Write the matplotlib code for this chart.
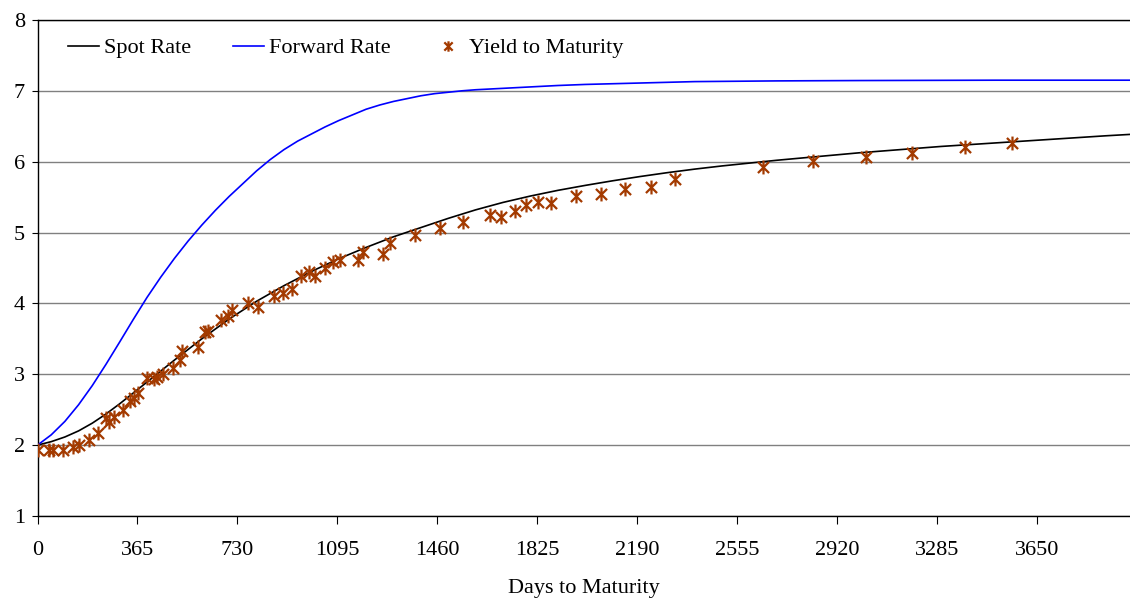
import numpy as np
import matplotlib
matplotlib.use("Agg")
import matplotlib.pyplot as plt
from matplotlib.path import Path

plt.rcParams['font.family'] = ['Liberation Serif', 'DejaVu Serif']
plt.rcParams['font.size'] = 16

# fitted spot curve (days, %)
spot_days = [0, 50, 100, 150, 200, 250, 300, 400, 500, 600, 700, 800, 900, 1000,
             1100, 1200, 1300, 1400, 1500, 1600, 1700, 1800, 1900, 2000, 2100, 2200,
             2300, 2400, 2500, 2600, 2700, 2800, 2900, 3000, 3100, 3200, 3300, 3400,
             3500, 3600, 3700, 3800, 3900, 3990]
spot_rate = [2.000, 2.049, 2.115, 2.201, 2.310, 2.439, 2.583, 2.890, 3.200, 3.500,
             3.780, 4.030, 4.250, 4.450, 4.630, 4.790, 4.940, 5.070, 5.200, 5.320,
             5.425, 5.515, 5.595, 5.665, 5.730, 5.790, 5.845, 5.895, 5.940, 5.980,
             6.020, 6.055, 6.090, 6.125, 6.155, 6.185, 6.215, 6.240, 6.265, 6.290,
             6.315, 6.340, 6.365, 6.385]

# implied forward curve (days, %)
fwd_days = [0, 50, 100, 150, 200, 250, 300, 350, 400, 450, 500, 550, 600, 650, 700,
            750, 800, 850, 900, 950, 1000, 1050, 1100, 1150, 1200, 1250, 1300, 1350,
            1400, 1450, 1500, 1550, 1600, 1700, 1800, 1900, 2000, 2200, 2400, 2700,
            3000, 3500, 3990]
fwd_rate = [2.000, 2.145, 2.335, 2.570, 2.840, 3.140, 3.455, 3.775, 4.085, 4.370,
            4.635, 4.880, 5.105, 5.315, 5.510, 5.690, 5.870, 6.030, 6.170, 6.290,
            6.390, 6.490, 6.580, 6.660, 6.740, 6.800, 6.850, 6.890, 6.930, 6.960,
            6.980, 7.000, 7.015, 7.035, 7.055, 7.075, 7.090, 7.110, 7.130, 7.140,
            7.145, 7.150, 7.150]

# observed yields to maturity (days, %)
ytm_days = [0, 43, 58, 94, 131, 153, 189, 220, 250, 261, 279, 311, 338, 352, 368,
            401, 425, 437, 459, 493, 520, 526, 585, 611, 623, 670, 696, 712, 770,
            804, 864, 897, 930, 961, 992, 1013, 1049, 1080, 1104, 1171, 1189, 1261,
            1289, 1378, 1469, 1554, 1651, 1694, 1743, 1785, 1828, 1877, 1968, 2057,
            2144, 2242, 2330, 2649, 2832, 3026, 3194, 3389, 3559]
ytm_rate = [1.93, 1.93, 1.93, 1.93, 1.98, 2.00, 2.07, 2.17, 2.38, 2.33, 2.40, 2.50,
            2.62, 2.67, 2.74, 2.95, 2.93, 2.96, 3.00, 3.09, 3.20, 3.33, 3.38, 3.60,
            3.61, 3.76, 3.82, 3.91, 4.01, 3.95, 4.10, 4.15, 4.21, 4.38, 4.45, 4.38,
            4.50, 4.58, 4.61, 4.61, 4.72, 4.70, 4.85, 4.96, 5.06, 5.15, 5.25, 5.22,
            5.30, 5.39, 5.43, 5.41, 5.52, 5.54, 5.62, 5.64, 5.75, 5.93, 6.01, 6.06,
            6.12, 6.21, 6.27]

xticks = np.arange(0, 3651, 365)
yticks = np.arange(1, 9)

# Excel-style star: an X with a vertical bar through it
star = Path([(-1, -1), (1, 1), (-1, 1), (1, -1), (0, -1.25), (0, 1.25)],
            [Path.MOVETO, Path.LINETO, Path.MOVETO, Path.LINETO, Path.MOVETO, Path.LINETO])

fig = plt.figure(figsize=(11.30, 6.03), dpi=100)
ax = fig.add_axes([0.0332, 0.1443, 0.9668, 0.8226])

ax.plot(spot_days, spot_rate, color='black', lw=1.2, label='Spot Rate', zorder=3)
ax.plot(fwd_days, fwd_rate, color='#0000ff', lw=1.2, label='Forward Rate', zorder=3)
ax.plot(ytm_days, ytm_rate, ls='none', marker=star, ms=10, mew=1.6, color='#a33a00',
        label='Yield to Maturity', zorder=4)

ax.set_xlim(0, 3990)
ax.set_ylim(1, 8)
ax.set_xticks(xticks)
ax.set_yticks(yticks)
ax.yaxis.grid(True, color='#808080', lw=1.0)
ax.set_axisbelow(True)

ax.spines['right'].set_visible(False)
for s in ('left', 'bottom', 'top'):
    ax.spines[s].set_color('black')
    ax.spines[s].set_linewidth(1.0)

ax.tick_params(axis='x', direction='out', length=6, pad=12, width=0.8)
ax.tick_params(axis='y', direction='out', length=4, pad=5, width=0.8)

ax.set_xlabel('Days to Maturity', labelpad=14)

ax.legend(loc='upper left', ncol=3, frameon=False, bbox_to_anchor=(0.0195, 0.982),
          borderaxespad=0, handlelength=1.4, handletextpad=0.25, columnspacing=1.85,
          markerscale=0.75)

fig.savefig('out.png', dpi=100)
